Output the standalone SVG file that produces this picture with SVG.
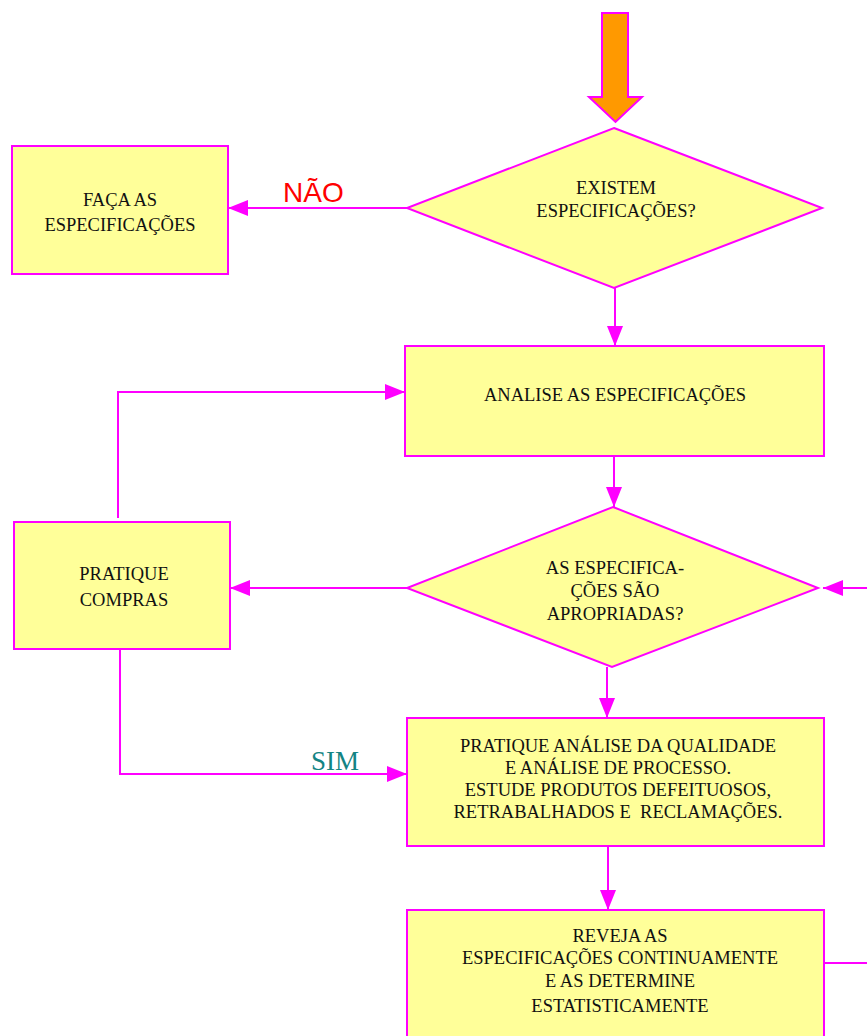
<svg xmlns="http://www.w3.org/2000/svg" width="867" height="1036" viewBox="0 0 867 1036">
<style>
.box{fill:#FFFF99;stroke:#FF00FF;stroke-width:2}
.ln{fill:none;stroke:#FF00FF;stroke-width:2}
.t{font-family:"Liberation Serif","Times New Roman",serif;font-size:18.5px;text-anchor:middle;fill:#111}
.nao{font-family:"Liberation Sans",Arial,sans-serif;font-size:28px;fill:#FF0000}
.sim{font-family:"Liberation Serif","Times New Roman",serif;font-size:27px;fill:#138484}
</style>
<defs>
<marker id="ah" markerUnits="userSpaceOnUse" markerWidth="20" markerHeight="16" refX="20" refY="8" orient="auto">
<path d="M0,0 L20,8 L0,16 z" fill="#FF00FF"/>
</marker>
</defs>
<rect width="867" height="1036" fill="#fff"/>
<g id="start-arrow">
<path d="M602,13 L628,13 L628,97 L642,97 L615.5,122 L589,97 L602,97 z" fill="#FF9900" stroke="#FF00FF" stroke-width="2"/>
</g>
<g id="connectors">
<line class="ln" x1="407" y1="208" x2="228" y2="208" marker-end="url(#ah)"/>
<line class="ln" x1="615" y1="288" x2="615" y2="346" marker-end="url(#ah)"/>
<line class="ln" x1="614" y1="456" x2="614" y2="507" marker-end="url(#ah)"/>
<line class="ln" x1="407" y1="588" x2="230" y2="588" marker-end="url(#ah)"/>
<polyline class="ln" points="118,518 118,392 405,392" marker-end="url(#ah)"/>
<polyline class="ln" points="120,647 120,774 407,774" marker-end="url(#ah)"/>
<line class="ln" x1="867" y1="588" x2="823" y2="588" marker-end="url(#ah)"/>
<line class="ln" x1="607" y1="667" x2="607" y2="718" marker-end="url(#ah)"/>
<line class="ln" x1="608" y1="846" x2="608" y2="910" marker-end="url(#ah)"/>
<line class="ln" x1="824" y1="963" x2="867" y2="963"/>
<text class="nao" x="283" y="202">NÃO</text>
<text class="sim" x="311" y="770">SIM</text>
</g>
<g id="d1">
<polygon class="box" points="614,128 822,208 614,288 407,208"/>
<text class="t" x="616" y="194">EXISTEM</text>
<text class="t" x="616" y="217">ESPECIFICAÇÕES?</text>
</g>
<g id="faca">
<rect class="box" x="12" y="146" width="216" height="128"/>
<text class="t" x="120" y="206">FAÇA AS</text>
<text class="t" x="120" y="231">ESPECIFICAÇÕES</text>
</g>
<g id="analise">
<rect class="box" x="405" y="346" width="419" height="110"/>
<text class="t" x="615" y="401">ANALISE AS ESPECIFICAÇÕES</text>
</g>
<g id="d2">
<polygon class="box" points="613,507 818,588 612,667 407,588"/>
<text class="t" x="615" y="574">AS ESPECIFICA-</text>
<text class="t" x="615" y="597">ÇÕES SÃO</text>
<text class="t" x="615" y="620">APROPRIADAS?</text>
</g>
<g id="compras">
<rect class="box" x="14" y="522" width="216" height="127"/>
<text class="t" x="124" y="580">PRATIQUE</text>
<text class="t" x="124" y="606">COMPRAS</text>
</g>
<g id="analise-qualidade">
<rect class="box" x="407" y="718" width="417" height="128"/>
<text class="t" x="618" y="752">PRATIQUE ANÁLISE DA QUALIDADE</text>
<text class="t" x="618" y="774">E ANÁLISE DE PROCESSO.</text>
<text class="t" x="618" y="796">ESTUDE PRODUTOS DEFEITUOSOS,</text>
<text class="t" x="618" y="818" xml:space="preserve">RETRABALHADOS E  RECLAMAÇÕES.</text>
</g>
<g id="reveja">
<rect class="box" x="407" y="910" width="417" height="140"/>
<text class="t" x="620" y="942">REVEJA AS</text>
<text class="t" x="620" y="964">ESPECIFICAÇÕES CONTINUAMENTE</text>
<text class="t" x="620" y="987">E AS DETERMINE</text>
<text class="t" x="620" y="1012">ESTATISTICAMENTE</text>
</g>
</svg>
